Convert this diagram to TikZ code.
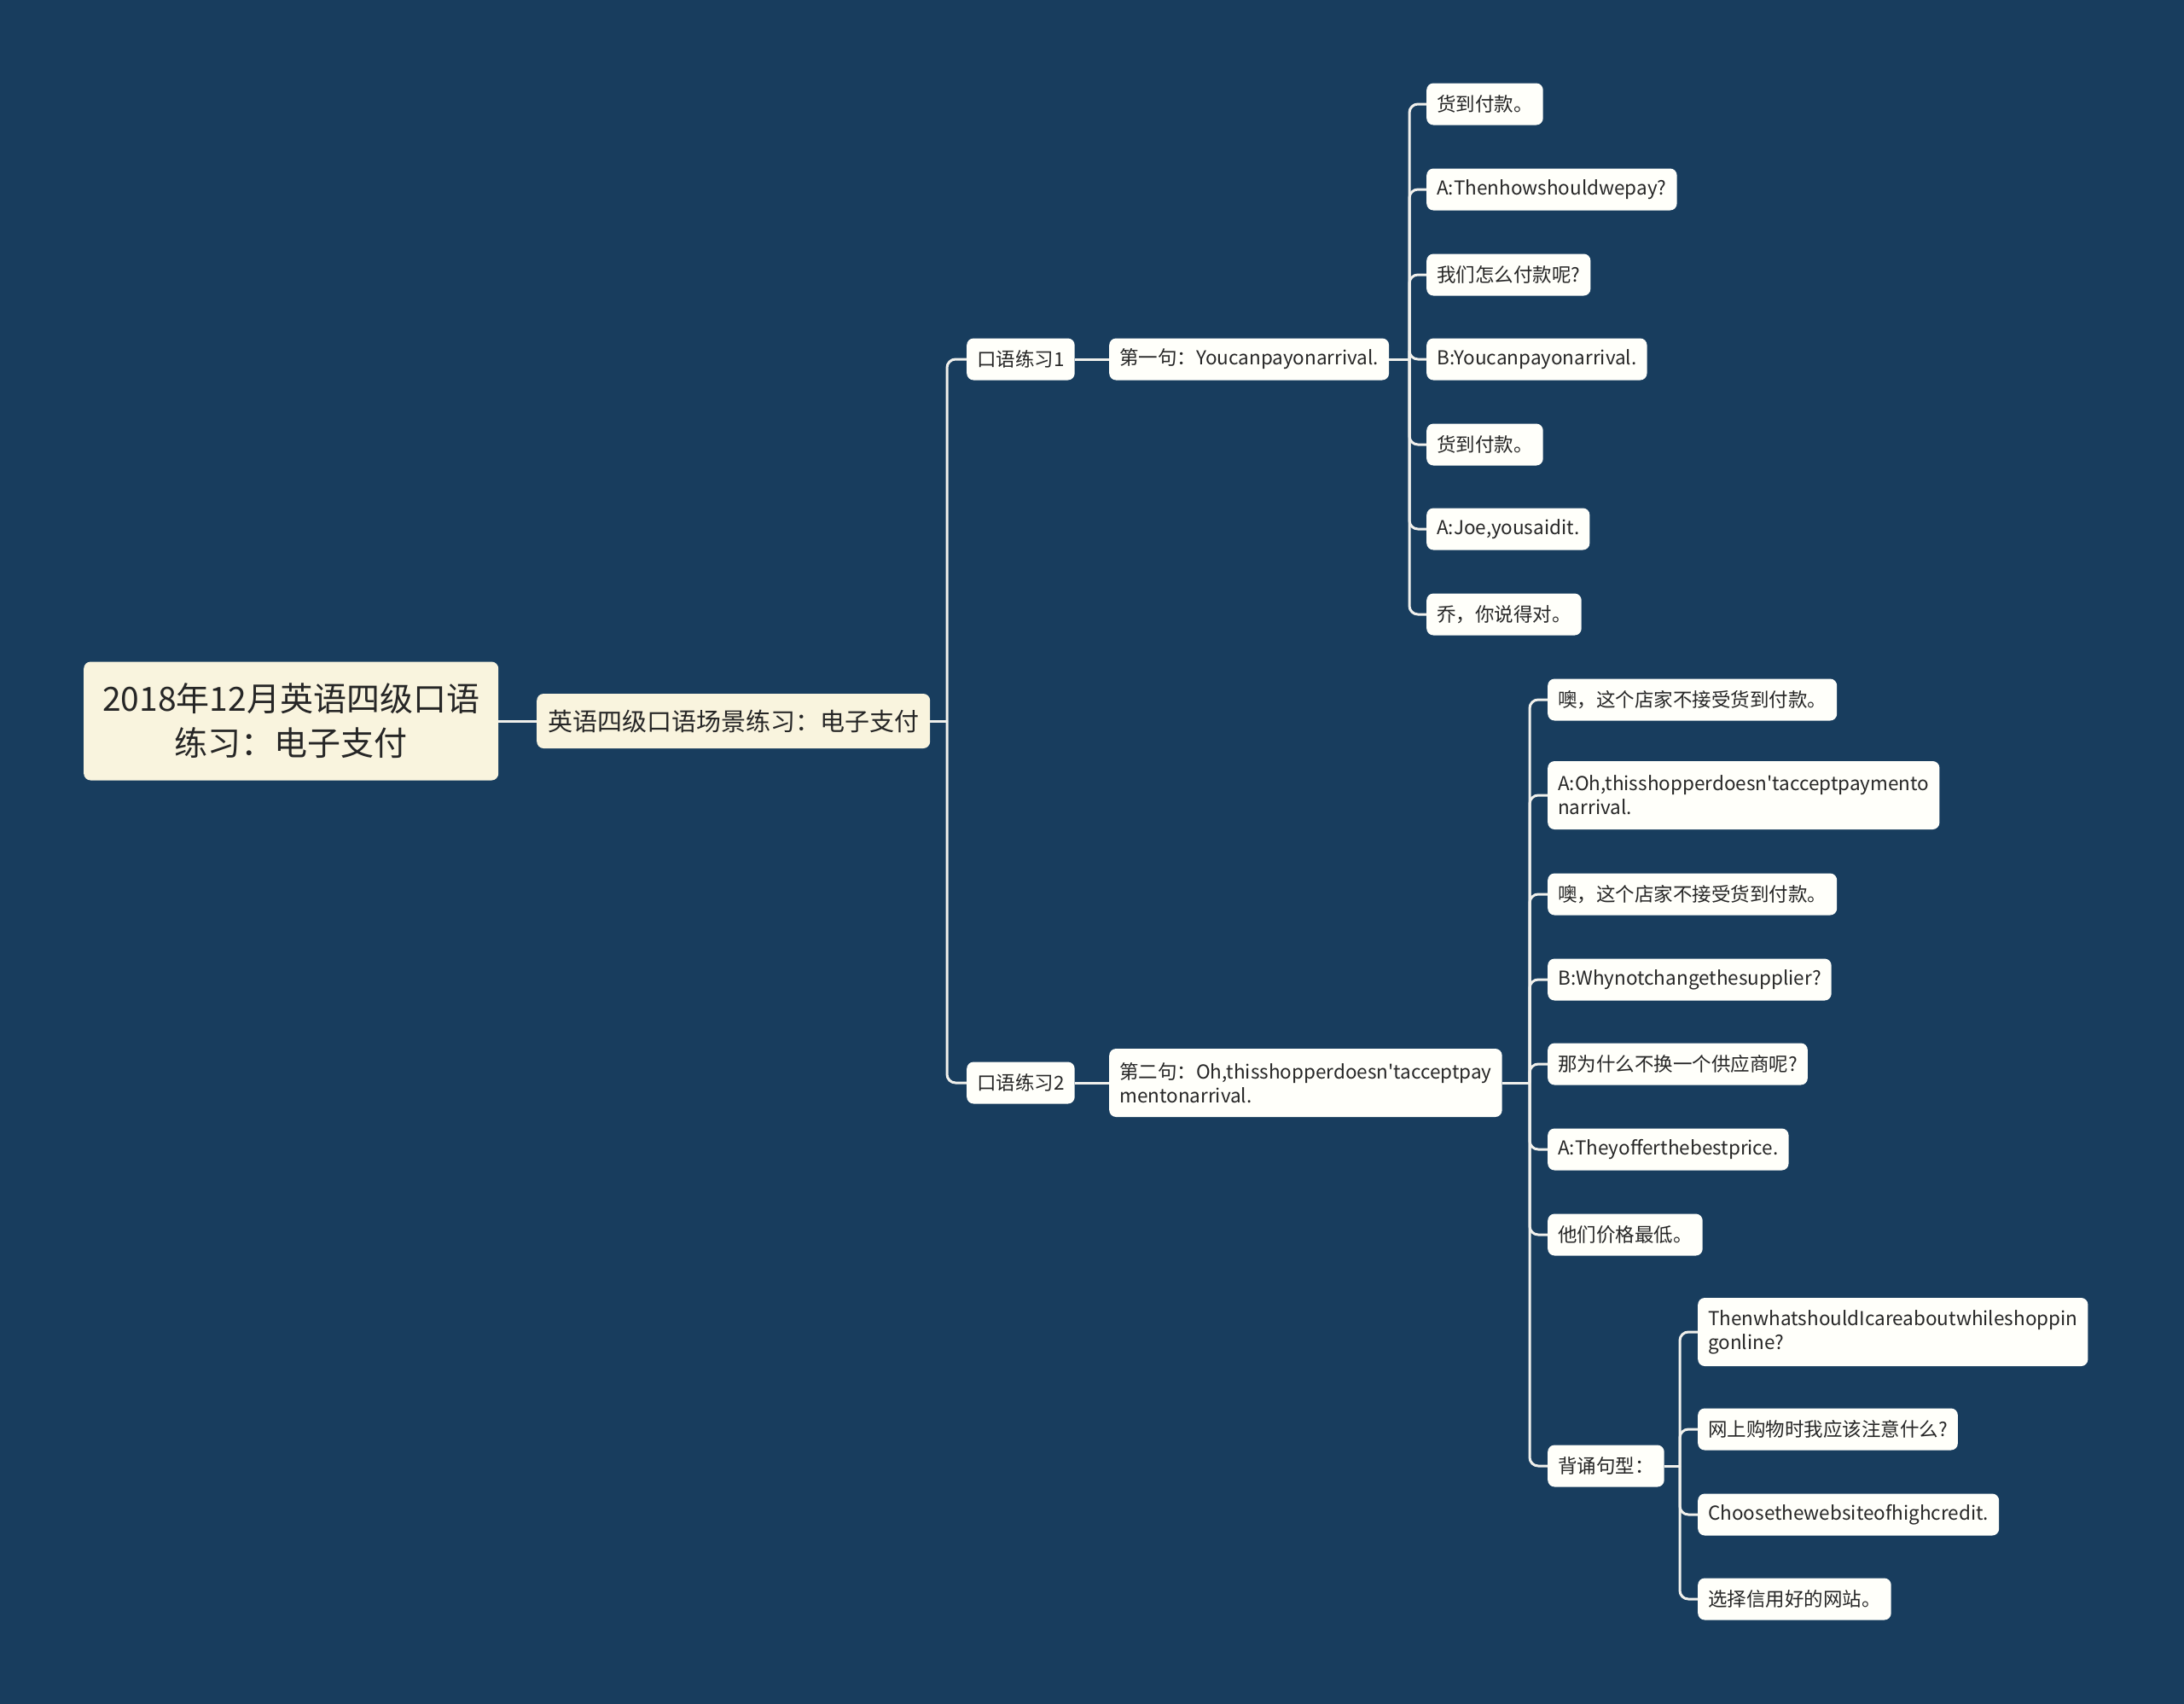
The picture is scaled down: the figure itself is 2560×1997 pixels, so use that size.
\documentclass[tikz,border=0pt]{standalone}
\usepackage{fontspec}
\setmainfont{Noto Sans CJK SC}[Ligatures=TeXOff]
\usetikzlibrary{calc}
\definecolor{bgc}{RGB}{24,61,94}
\definecolor{rootc}{RGB}{249,244,222}
\definecolor{leafc}{RGB}{255,255,250}
\definecolor{linec}{RGB}{240,240,236}
\tikzset{
  base/.style={rounded corners=8pt, inner xsep=12pt, inner ysep=0pt, anchor=west, text=black!85, align=left},
  rootbox/.style={base, fill=rootc, font=\fontsize{39}{52}\selectfont, align=center, minimum height=139pt, inner xsep=10pt},
  lvlone/.style={base, fill=rootc, font=\fontsize{29}{34}\selectfont, minimum height=64pt, inner xsep=13pt},
  leaf/.style={base, fill=leafc, font=\fontsize{22.5}{28}\selectfont, minimum height=49pt},
  leaftwo/.style={leaf, minimum height=80pt},
  conn/.style={draw=linec, line width=3pt},
  rconn/.style={conn, rounded corners=10pt},
}
\begin{document}
\begin{tikzpicture}[x=1pt,y=-1pt]
\fill[bgc] (0,0) rectangle (2560,1997);
\useasboundingbox (0,0) rectangle (2560,1997);

\coordinate (v1) at (1110,0);
\coordinate (v2) at (1652,0);
\coordinate (v3) at (1793,0);
\coordinate (v4) at (1969,0);

\node[rootbox, minimum width=486pt] (root) at (98,845) {2018年12月英语四级口语\\练习：电子支付};
\node[lvlone] (l1) at (629,845) {英语四级口语场景练习：电子支付};

\node[leaf] (k1) at (1133,421) {口语练习1};
\node[leaf] (k2) at (1133,1269) {口语练习2};

\node[leaf] (s1) at (1300,421) {第一句：Youcanpayonarrival.};
\node[leaftwo] (s2) at (1300,1269) {第二句：Oh,thisshopperdoesn'tacceptpay\\mentonarrival.};

\node[leaf] (a1) at (1672,122) {货到付款。};
\node[leaf] (a2) at (1672,222) {A:Thenhowshouldwepay?};
\node[leaf] (a3) at (1672,322) {我们怎么付款呢?};
\node[leaf] (a4) at (1672,421) {B:Youcanpayonarrival.};
\node[leaf] (a5) at (1672,521) {货到付款。};
\node[leaf] (a6) at (1672,620) {A:Joe,yousaidit.};
\node[leaf] (a7) at (1672,720) {乔，你说得对。};

\node[leaf] (b1) at (1814,820) {噢，这个店家不接受货到付款。};
\node[leaftwo] (b2) at (1814,932) {A:Oh,thisshopperdoesn'tacceptpaymento\\narrival.};
\node[leaf] (b3) at (1814,1048) {噢，这个店家不接受货到付款。};
\node[leaf] (b4) at (1814,1148) {B:Whynotchangethesupplier?};
\node[leaf] (b5) at (1814,1247) {那为什么不换一个供应商呢?};
\node[leaf] (b6) at (1814,1347) {A:Theyofferthebestprice.};
\node[leaf] (b7) at (1814,1447) {他们价格最低。};
\node[leaf] (b8) at (1814,1718) {背诵句型：};

\node[leaftwo] (c1) at (1990,1561) {ThenwhatshouldIcareaboutwhileshoppin\\gonline?};
\node[leaf] (c2) at (1990,1675) {网上购物时我应该注意什么?};
\node[leaf] (c3) at (1990,1775) {Choosethewebsiteofhighcredit.};
\node[leaf] (c4) at (1990,1874) {选择信用好的网站。};

% root -> l1
\draw[conn] (root.east) -- (l1.west);
% l1 -> k
\draw[conn] (l1.east) -- (l1.east -| v1);
\foreach \c in {k1,k2} \draw[rconn] (l1.east -| v1) |- (\c.west);
% k -> s
\draw[conn] (k1.east) -- (s1.west);
\draw[conn] (k2.east) -- (s2.west);
% s1 -> a
\draw[conn] (s1.east) -- (s1.east -| v2);
\foreach \c in {a1,a2,a3,a4,a5,a6,a7} \draw[rconn] (s1.east -| v2) |- (\c.west);
% s2 -> b
\draw[conn] (s2.east) -- (s2.east -| v3);
\foreach \c in {b1,b2,b3,b4,b5,b6,b7,b8} \draw[rconn] (s2.east -| v3) |- (\c.west);
% b8 -> c
\draw[conn] (b8.east) -- (b8.east -| v4);
\foreach \c in {c1,c2,c3,c4} \draw[rconn] (b8.east -| v4) |- (\c.west);
\end{tikzpicture}
\end{document}
